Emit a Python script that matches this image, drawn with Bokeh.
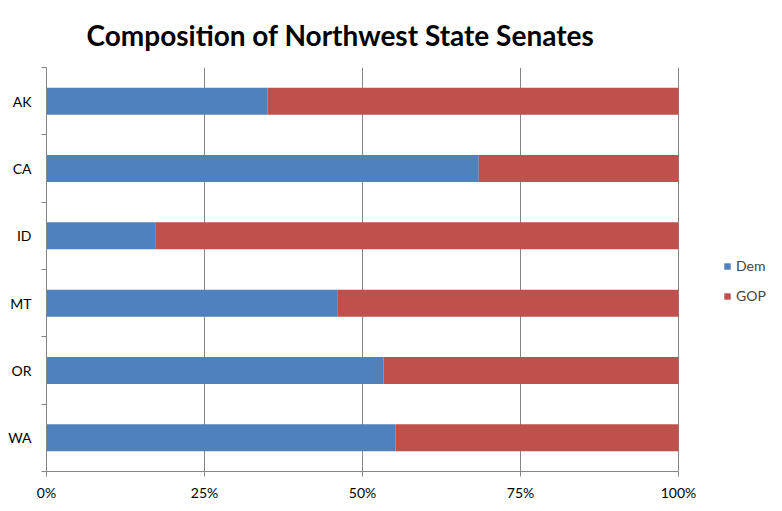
import bokeh.plotting as bp
import bokeh.models as bm
from bokeh.embed import file_html
from bokeh.resources import INLINE

# data (share of seats per party)
states = ["AK", "CA", "ID", "MT", "OR", "WA"]
dem = [0.35, 0.684, 0.172, 0.46, 0.533, 0.552]
gop = [0.65, 0.316, 0.828, 0.54, 0.467, 0.448]
parties = ["Dem", "GOP"]
pct_ticks = [0, 0.25, 0.5, 0.75, 1.0]
pct_labels = ["0%", "25%", "50%", "75%", "100%"]

n = len(states)
ypos = [n - 0.5 - i for i in range(n)]

FONT = "Lato"
GRAY = "#868686"

# frame runs to the right edge so the legend beside the bars is not clipped;
# 100% sits 104px before the edge
LEFT, RIGHT_EDGE, AXIS_END = 46, 782, 678
x_end = (RIGHT_EDGE - LEFT) / (AXIS_END - LEFT)

src = bm.ColumnDataSource(dict(y=ypos, dem=dem, gop=gop, state=states))

p = bp.figure(
    width=782, height=511,
    x_range=bm.Range1d(0, x_end), y_range=bm.Range1d(0, n),
    output_backend="svg", toolbar_location=None,
    min_border_left=LEFT, min_border_right=0,
    min_border_top=66, min_border_bottom=40,
)
p.outline_line_color = None

p.title.text = "Composition of Northwest State Senates"
p.title.text_font = FONT
p.title.text_font_size = "28px"
p.title.text_font_style = "bold"
p.title.text_color = "#000000"
p.title.align = "left"
p.title.offset = 40
p.title.standoff = 31

bars = p.hbar_stack(["dem", "gop"], y="y", height=0.4, source=src,
                    color=["#4F81BD", "#C0504D"], line_color=None)

# x axis
p.xaxis.bounds = (0, 1)
p.xaxis.ticker = bm.FixedTicker(ticks=pct_ticks, minor_ticks=[])
p.xaxis.major_label_overrides = {t: l for t, l in zip(pct_ticks, pct_labels)}
p.xaxis.axis_line_color = GRAY
p.xaxis.major_tick_line_color = GRAY
p.xaxis.major_tick_in = 0
p.xaxis.major_tick_out = 5
p.xaxis.major_label_standoff = 7
p.xaxis.major_label_text_font = FONT
p.xaxis.major_label_text_font_size = "14px"
p.xaxis.major_label_text_color = "#000000"

# y axis: labels at bar centres, ticks between the bars
p.yaxis.ticker = bm.FixedTicker(ticks=ypos, minor_ticks=list(range(n + 1)))
p.yaxis.major_label_overrides = {y: s for y, s in zip(ypos, states)}
p.yaxis.axis_line_color = GRAY
p.yaxis.major_tick_line_color = None
p.yaxis.minor_tick_line_color = GRAY
p.yaxis.minor_tick_in = 0
p.yaxis.minor_tick_out = 5
p.yaxis.major_label_standoff = 9
p.yaxis.major_label_text_font = FONT
p.yaxis.major_label_text_font_size = "14px"
p.yaxis.major_label_text_color = "#000000"

p.xgrid.ticker = bm.FixedTicker(ticks=pct_ticks)
p.xgrid.grid_line_color = GRAY
p.ygrid.grid_line_color = None

leg = bm.Legend(items=[bm.LegendItem(label=lab, renderers=[r]) for lab, r in zip(parties, bars)])
leg.location = (677, 167)
leg.orientation = "vertical"
leg.border_line_color = None
leg.background_fill_alpha = 0
leg.padding = 0
leg.margin = 0
leg.spacing = 13
leg.glyph_width = 8
leg.glyph_height = 8
leg.label_standoff = 5
leg.label_text_font = FONT
leg.label_text_font_size = "14px"
p.add_layout(leg)

open("out.html", "w").write(file_html(p, INLINE))
